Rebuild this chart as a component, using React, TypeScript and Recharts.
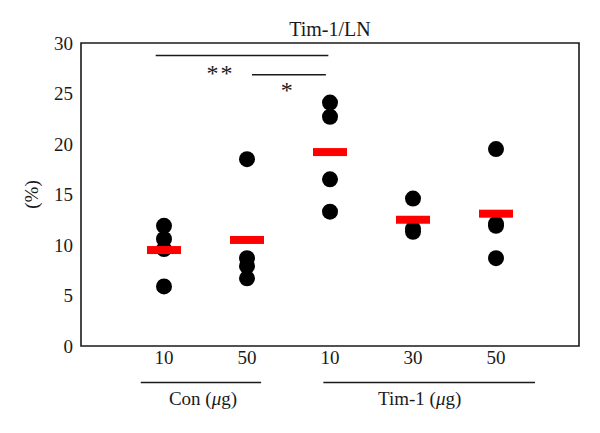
import {
  ScatterChart,
  Scatter,
  XAxis,
  YAxis,
  ReferenceArea,
  ReferenceLine,
  ReferenceDot,
} from 'recharts';

const categories = ['10', '50', '10', '30', '50'];
const categoryPos = [1, 2, 3, 4, 5];
const yTicks = [0, 5, 10, 15, 20, 25, 30];

// individual values per category (%)
const con10 = [11.9, 10.6, 9.6, 5.9];
const con50 = [18.5, 8.7, 7.9, 6.7];
const tim10 = [24.1, 22.7, 16.5, 13.3];
const tim30 = [14.6, 11.6, 11.3];
const tim50 = [19.5, 12.1, 11.9, 8.7];
const means = [9.5, 10.5, 19.2, 12.5, 13.1];

const groupNames = ['Con (', 'Tim-1 ('];

const FONT = "'Liberation Serif', 'Times New Roman', serif";
const INK = '#1a1a1a';
const FS = 19;

const dots = [con10, con50, tim10, tim30, tim50].flatMap((vals, i) =>
  vals.map((v) => ({ x: categoryPos[i], y: v }))
);
const meanPts = means.map((v, i) => ({ x: categoryPos[i], y: v }));

// significance brackets and group underlines (in data units)
const brackets = [
  { x1: 0.9, x2: 2.98, y: 28.76, tx: 1.68, ty: 26.2, text: '**' },
  { x1: 2.06, x2: 2.95, y: 26.85, tx: 2.49, ty: 24.6, text: '*' },
];
const groups = [
  { x1: 0.72, x2: 2.17, tx: 1.47, name: groupNames[0] },
  { x1: 2.92, x2: 5.47, tx: 4.08, name: groupNames[1] },
];
const groupLineY = -3.61;
const groupTextY = -5.8;

const Dot = (p: any) => <circle cx={p.cx} cy={p.cy} r={8} fill="#000" />;
const MeanBar = (p: any) => (
  <rect x={p.cx - 17} y={p.cy - 4} width={34} height={8} fill="#ff0000" />
);

export default function App() {
  return (
    <div style={{ position: 'absolute', left: 0, top: 0, background: '#fff' }}>
      <ScatterChart
        width={600}
        height={433}
        margin={{ top: 43, right: 21, bottom: 57, left: 0 }}
      >
        <XAxis
          type="number"
          dataKey="x"
          domain={[0, 6]}
          ticks={categoryPos}
          tickFormatter={(v) => categories[v - 1]}
          axisLine={false}
          tickLine={false}
          tickSize={0}
          tickMargin={5}
          height={30}
          tick={{ fill: INK, fontSize: FS, fontFamily: FONT }}
        />
        <YAxis
          type="number"
          dataKey="y"
          domain={[0, 30]}
          ticks={yTicks}
          axisLine={false}
          tickLine={false}
          tickSize={0}
          tickMargin={8}
          width={81}
          tick={{ fill: INK, fontSize: FS, fontFamily: FONT }}
          label={{
            content: (props: any) => {
              const vb = props.viewBox;
              const cx = vb.x + 31;
              const cy = vb.y + vb.height / 2;
              return (
                <text
                  x={cx}
                  y={cy}
                  transform={`rotate(-90 ${cx} ${cy})`}
                  textAnchor="middle"
                  dominantBaseline="central"
                  fontSize={FS}
                  fontFamily={FONT}
                  fill={INK}
                >
                  (%)
                </text>
              );
            },
          }}
        />
        <ReferenceArea
          x1={0}
          x2={6}
          y1={0}
          y2={30}
          fill="none"
          stroke={INK}
          strokeWidth={1.6}
          label={{
            value: 'Tim-1/LN',
            position: 'top',
            offset: 7,
            fontSize: 20,
            fontFamily: FONT,
            fill: INK,
          }}
        />
        {brackets.map((b, i) => (
          <ReferenceLine
            key={'b' + i}
            segment={[
              { x: b.x1, y: b.y },
              { x: b.x2, y: b.y },
            ]}
            stroke={INK}
            strokeWidth={1.5}
          />
        ))}
        {brackets.map((b, i) => (
          <ReferenceDot
            key={'s' + i}
            x={b.tx}
            y={b.ty}
            ifOverflow="visible"
            shape={(p: any) => (
              <text
                x={p.cx}
                y={p.cy}
                textAnchor="middle"
                fontSize={24}
                fontFamily={FONT}
                fill={INK}
                letterSpacing={2}
              >
                {b.text}
              </text>
            )}
          />
        ))}
        {groups.map((g, i) => (
          <ReferenceLine
            key={'g' + i}
            ifOverflow="visible"
            segment={[
              { x: g.x1, y: groupLineY },
              { x: g.x2, y: groupLineY },
            ]}
            stroke={INK}
            strokeWidth={1.5}
          />
        ))}
        {groups.map((g, i) => (
          <ReferenceDot
            key={'gt' + i}
            x={g.tx}
            y={groupTextY}
            ifOverflow="visible"
            shape={(p: any) => (
              <text
                x={p.cx}
                y={p.cy}
                textAnchor="middle"
                fontSize={FS}
                fontFamily={FONT}
                fill={INK}
              >
                {g.name}
                <tspan fontStyle="italic">μ</tspan>g)
              </text>
            )}
          />
        ))}
        <Scatter data={dots} shape={Dot} isAnimationActive={false} />
        <Scatter data={meanPts} shape={MeanBar} isAnimationActive={false} />
      </ScatterChart>
    </div>
  );
}
